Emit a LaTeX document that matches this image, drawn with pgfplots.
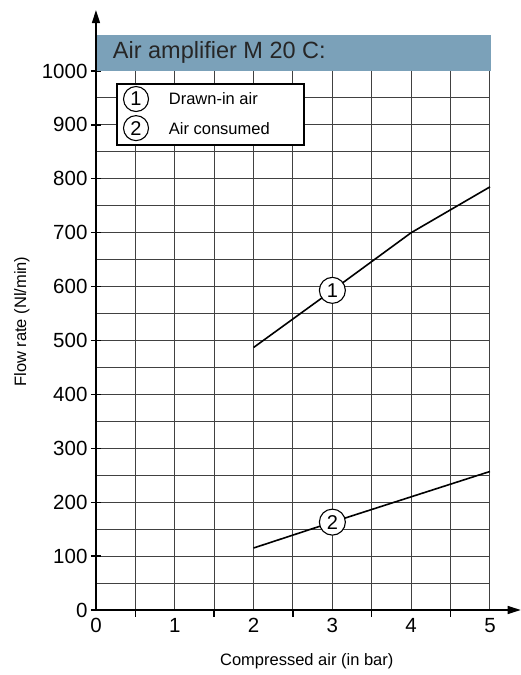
\documentclass[border=0pt]{standalone}
\usepackage{fontspec}
\setmainfont{Liberation Sans}
\usepackage{pgfplots}
\usepackage{pgfplotstable}
\pgfplotsset{compat=1.18}
\usetikzlibrary{arrows.meta}

\definecolor{titlebar}{RGB}{123,161,185}
\definecolor{gridgray}{RGB}{65,65,65}

% 1 = drawn-in air, 2 = air consumed
\pgfplotstableread{
x y
2 487
3 593
4 700
5 785
}\drawnin
\pgfplotstableread{
x y
2 115
3 163
4 210
5 257
}\consumed

\newcommand\lblfont{\fontsize{16.5}{19}\selectfont}
\newcommand\numfont{\fontsize{20}{22}\selectfont}

\begin{document}
\begin{tikzpicture}
\begin{axis}[
    scale only axis,
    width=394pt, height=539pt,
    xmin=0, xmax=5, ymin=0, ymax=1000,
    xtick={0,...,5}, minor x tick num=1,
    ytick={0,100,...,1000}, minor y tick num=1,
    grid=both,
    major grid style={gridgray, line width=1pt},
    minor grid style={gridgray, line width=1pt},
    axis line style={draw=none},
    tick pos=left, tick align=center,
    major tick length=10pt, minor tick length=0pt,
    ytick style={black, line width=1.3pt},
    xtick style={draw=none},
    /pgf/number format/assume math mode=true,
    /pgf/number format/set thousands separator={},
    ticklabel style={font=\fontsize{20.5}{24}\selectfont},
    xlabel={Compressed air (in bar)},
    xlabel style={at={(axis description cs:0.535,-0.095)}, anchor=center, font=\lblfont},
    ylabel={Flow rate (Nl/min)},
    ylabel style={at={(axis description cs:-0.188,0.535)}, anchor=center, font=\lblfont},
    clip=false,
    every node near coord/.style={circle, draw=black, fill=white, line width=1.1pt,
        minimum size=26pt, inner sep=0pt, anchor=center, font=\numfont, text=black},
]
% title bar
\fill[titlebar] (axis cs:0,1000) rectangle (axis cs:5.01,1067);
\node[anchor=west, font=\fontsize{23.5}{26}\selectfont, text=black!85]
    at (axis cs:0.17,1034) {Air amplifier M 20 C:};

\addplot[black, line width=1.6pt] table[x=x, y=y] {\drawnin};
\addplot[black, line width=1.6pt] table[x=x, y=y] {\consumed};

% circled numbers on the curves
\addplot[draw=none, nodes near coords={1}] coordinates {(3,593)};
\addplot[draw=none, nodes near coords={2}] coordinates {(3,163)};

% short marks below the x axis at the half steps
\pgfplotsinvokeforeach{0.5,1.5,2.5,3.5,4.5}{
  \draw[black, line width=1.4pt] (axis cs:#1,0) -- ++(0,-7pt);
}

% axes with arrows
\draw[black, line width=1.4pt, -{Triangle[length=13pt, width=8pt]}]
    (axis cs:0,0) -- (axis cs:0,1113);
\draw[black, line width=1.4pt, -{Triangle[length=13pt, width=8pt]}]
    (axis cs:0,0) -- (axis cs:5.39,0);

% legend
\draw[black, line width=1.4pt, fill=white] (axis cs:0.266,976) rectangle (axis cs:2.64,863);
\node[circle, draw, line width=1.1pt, minimum size=25pt, inner sep=0pt, font=\numfont]
    at (axis cs:0.508,948) {1};
\node[circle, draw, line width=1.1pt, minimum size=25pt, inner sep=0pt, font=\numfont]
    at (axis cs:0.508,894) {2};
\node[anchor=west, font=\lblfont] at (axis cs:0.88,948) {Drawn-in air};
\node[anchor=west, font=\lblfont] at (axis cs:0.88,894) {Air consumed};

\coordinate (bl) at (axis cs:-1.218,-120.6);
\coordinate (tr) at (axis cs:5.393,1131.7);
\end{axis}
\pgfresetboundingbox
\path (bl) rectangle (tr);
\end{tikzpicture}
\end{document}
